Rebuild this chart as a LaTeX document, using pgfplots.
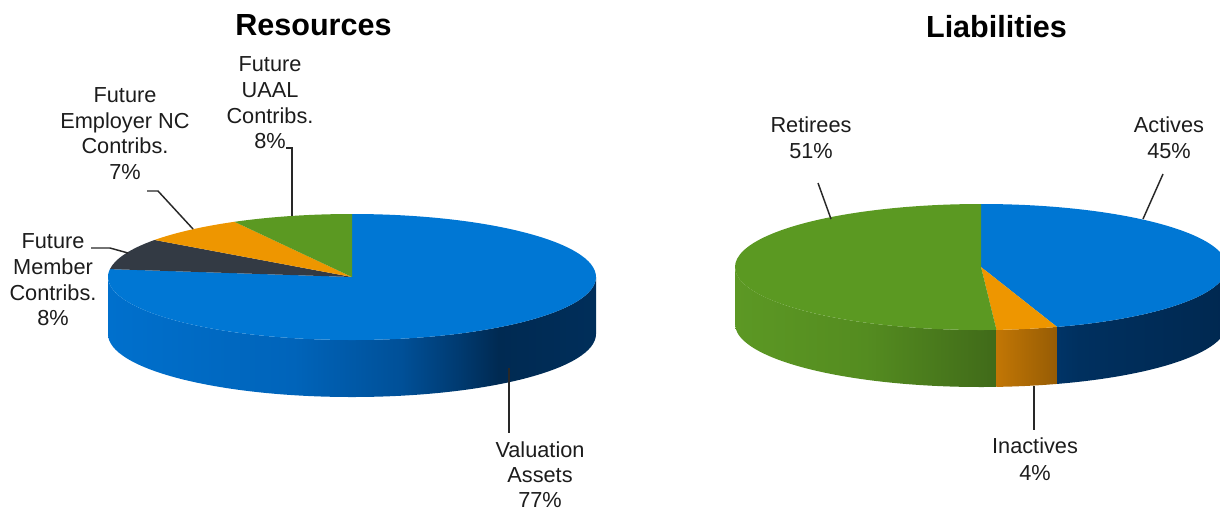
\documentclass[border=0pt]{standalone}
\usepackage{fontspec}
\setmainfont{Liberation Sans}
\usepackage{pgfplots}
\usepackage{pgfplotstable}
\pgfplotsset{compat=1.18}

\definecolor{cblue}{RGB}{0,119,212}
\definecolor{cdark}{RGB}{51,58,68}
\definecolor{corange}{RGB}{238,150,0}
\definecolor{cgreen}{RGB}{91,153,34}
\definecolor{txt}{RGB}{28,28,28}
\definecolor{lead}{RGB}{40,40,40}
% side shading colours
\definecolor{bsA}{RGB}{0,112,205}
\definecolor{bsB}{RGB}{0,100,186}
\definecolor{bsC}{RGB}{0,80,152}
\definecolor{bsD}{RGB}{0,58,112}
\definecolor{bsE}{RGB}{0,42,82}
\definecolor{bsF}{RGB}{0,46,90}
\definecolor{gsA}{RGB}{92,152,36}
\definecolor{gsB}{RGB}{84,140,32}
\definecolor{gsC}{RGB}{64,106,25}
\definecolor{osA}{RGB}{205,125,5}
\definecolor{osB}{RGB}{150,92,5}
\definecolor{rbA}{RGB}{0,66,128}
\definecolor{rbB}{RGB}{0,48,95}
\definecolor{rbC}{RGB}{0,40,80}

\pgfdeclarehorizontalshading{blueside}{100bp}{color(0bp)=(bsA); color(25bp)=(bsA); color(44bp)=(bsB); color(55bp)=(bsC); color(61bp)=(bsD); color(65bp)=(bsE); color(75bp)=(bsF); color(100bp)=(bsF)}
\pgfdeclarehorizontalshading{greenside}{100bp}{color(0bp)=(gsA); color(25bp)=(gsA); color(50bp)=(gsB); color(75bp)=(gsC); color(100bp)=(gsC)}
\pgfdeclarehorizontalshading{orangeside}{100bp}{color(0bp)=(osA); color(25bp)=(osA); color(75bp)=(osB); color(100bp)=(osB)}
\pgfdeclarehorizontalshading{bluesideR}{100bp}{color(0bp)=(rbA); color(25bp)=(rbA); color(45bp)=(rbB); color(75bp)=(rbC); color(100bp)=(rbC)}

\pgfplotstableread{
label value
Valuation 77
Member 8
Employer 7
UAAL 8
}\resources
\pgfplotstableread{
label value
Actives 45
Inactives 4
Retirees 51
}\liabilities

% top wedge: cx cy rx ry start end options  (1 px = 0.75pt)
\newcommand\pieslice[7]{%
  \fill[#7] (axis cs:#1,#2) -- ++({#3*0.75pt*cos(#5)},{#4*0.75pt*sin(#5)})
    arc[start angle=#5, end angle=#6, x radius={#3*0.75pt}, y radius={#4*0.75pt}] -- cycle;}
% side wall: cx cy rx ry a b depth options  (a<b, within 180..360)
\newcommand\pieside[8]{%
  \path[#8] (axis cs:#1,#2) ++({#3*0.75pt*cos(#5)},{#4*0.75pt*sin(#5)})
    arc[start angle=#5, end angle=#6, x radius={#3*0.75pt}, y radius={#4*0.75pt}]
    -- ++(0,{-#7*0.75pt})
    arc[start angle=#6, end angle=#5, x radius={#3*0.75pt}, y radius={#4*0.75pt}] -- cycle;}
\newcommand\lab[3]{\node[anchor=base, inner sep=0pt, text=txt,
  font=\fontsize{16.3}{19}\selectfont] at (axis cs:#1,#2) {#3};}

\begin{document}
\begin{tikzpicture}
% read values
\pgfplotstablegetelem{0}{value}\of\resources \pgfmathsetmacro\vA{\pgfplotsretval}
\pgfplotstablegetelem{1}{value}\of\resources \pgfmathsetmacro\vB{\pgfplotsretval}
\pgfplotstablegetelem{2}{value}\of\resources \pgfmathsetmacro\vC{\pgfplotsretval}
\pgfplotstablegetelem{3}{value}\of\resources \pgfmathsetmacro\vD{\pgfplotsretval}
\pgfplotstablegetelem{0}{value}\of\liabilities \pgfmathsetmacro\wA{\pgfplotsretval}
\pgfplotstablegetelem{1}{value}\of\liabilities \pgfmathsetmacro\wB{\pgfplotsretval}
\pgfplotstablegetelem{2}{value}\of\liabilities \pgfmathsetmacro\wC{\pgfplotsretval}
% angles (clockwise from 12 o'clock)
\pgfmathsetmacro\eA{90-3.6*\vA}
\pgfmathsetmacro\eB{\eA-3.6*\vB}
\pgfmathsetmacro\eC{\eB-3.6*\vC}
\pgfmathsetmacro\eD{\eC-3.6*\vD}
\pgfmathsetmacro\fA{90-3.6*\wA}
\pgfmathsetmacro\fB{\fA-3.6*\wB}
\pgfmathsetmacro\fC{\fB-3.6*\wC}
\pgfmathsetmacro\fAp{\fA+360}
\pgfmathsetmacro\fBp{\fB+360}
\begin{axis}[scale only axis, width=915pt, height=383.25pt,
  xmin=0, xmax=1220, ymin=0, ymax=511, y dir=reverse,
  hide axis, clip=true]
\coordinate (SW) at (axis cs:0,511);
\coordinate (NE) at (axis cs:1220,0);
% ---------- Resources pie ----------
\pieside{352}{277}{244}{63}{180}{360}{57}{shade, shading=blueside}
\pieslice{352}{277}{244}{63}{90}{\eA}{cblue}
\pieslice{352}{277}{244}{63}{\eA}{\eB}{cdark}
\pieslice{352}{277}{244}{63}{\eB}{\eC}{corange}
\pieslice{352}{277}{244}{63}{\eC}{\eD}{cgreen}
% ---------- Liabilities pie ----------
\pieside{981}{267}{246}{63}{180}{\fBp}{57}{shade, shading=greenside}
\pieside{981}{267}{246}{63}{\fBp}{\fAp}{57}{shade, shading=orangeside}
\pieside{981}{267}{246}{63}{\fAp}{360}{57}{shade, shading=bluesideR}
\pieslice{981}{267}{246}{63}{90}{\fA}{cblue}
\pieslice{981}{267}{246}{63}{\fA}{\fB}{corange}
\pieslice{981}{267}{246}{63}{\fB}{\fC}{cgreen}
% ---------- titles ----------
\node[anchor=base, inner sep=0pt, font=\fontsize{22.9}{27}\selectfont\bfseries]
  at (axis cs:313.5,35) {Resources};
\node[anchor=base, inner sep=0pt, font=\fontsize{22.9}{27}\selectfont\bfseries]
  at (axis cs:996.5,37) {Liabilities};
% ---------- leader lines ----------
\draw[lead, line width=1.1pt] (axis cs:286,148) -- (axis cs:292,148) -- (axis cs:292,216);
\draw[lead, line width=1.1pt] (axis cs:147,191) -- (axis cs:158,191) -- (axis cs:193,229);
\draw[lead, line width=1.1pt] (axis cs:91,248) -- (axis cs:110,248) -- (axis cs:128,253);
\draw[lead, line width=1.1pt] (axis cs:509,368) -- (axis cs:509,433);
\draw[lead, line width=1.1pt] (axis cs:818,183) -- (axis cs:831,219);
\draw[lead, line width=1.1pt] (axis cs:1163,174) -- (axis cs:1143,219);
\draw[lead, line width=1.1pt] (axis cs:1034,386) -- (axis cs:1034,430);
% ---------- labels ----------
\lab{270}{71}{Future}
\lab{270}{97}{UAAL}
\lab{270}{123}{Contribs.}
\lab{270}{148}{8\%}
\lab{125}{102}{Future}
\lab{125}{128}{Employer NC}
\lab{125}{153}{Contribs.}
\lab{125}{179}{7\%}
\lab{53}{248}{Future}
\lab{53}{274}{Member}
\lab{53}{300}{Contribs.}
\lab{53}{325}{8\%}
\lab{540}{457}{Valuation}
\lab{540}{482}{Assets}
\lab{540}{507}{77\%}
\lab{811}{132}{Retirees}
\lab{811}{158}{51\%}
\lab{1169}{132}{Actives}
\lab{1169}{158}{45\%}
\lab{1035}{453}{Inactives}
\lab{1035}{480}{4\%}
\end{axis}
\pgfresetboundingbox
\path (SW) rectangle (NE);
\end{tikzpicture}
\end{document}
